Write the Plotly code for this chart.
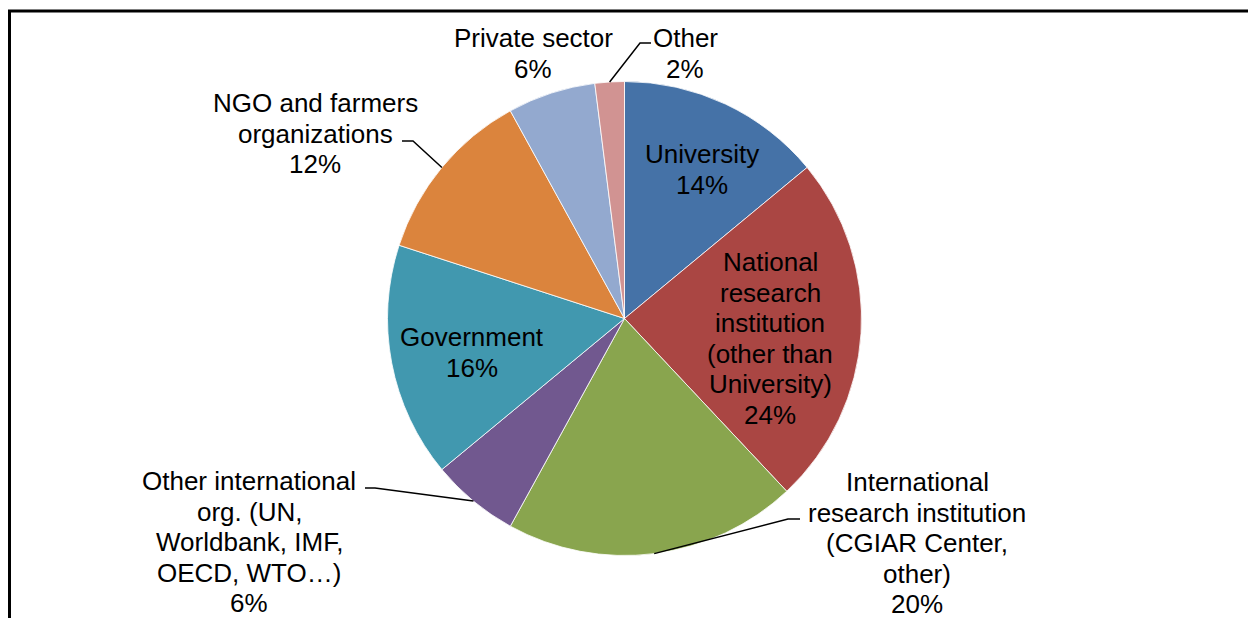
import math
import plotly.graph_objects as go

# ---- data ----
categories = [
    "University",
    "National research institution (other than University)",
    "International research institution (CGIAR Center, other)",
    "Other international org. (UN, Worldbank, IMF, OECD, WTO…)",
    "Government",
    "NGO and farmers organizations",
    "Private sector",
    "Other",
]
values = [14, 24, 20, 6, 16, 12, 6, 2]
label_lines = [
    ["University"],
    ["National", "research", "institution", "(other than", "University)"],
    ["International", "research institution", "(CGIAR Center,", "other)"],
    ["Other international", "org. (UN,", "Worldbank, IMF,", "OECD, WTO…)"],
    ["Government"],
    ["NGO and farmers", "organizations"],
    ["Private sector"],
    ["Other"],
]
colors = ["#4572A7", "#AA4643", "#89A54E", "#71588F", "#4198AF", "#DB843D", "#93A9CF", "#D19392"]

# ---- layout / style (pixels) ----
W, H = 1248, 618
CX, CY, R = 624.5, 318.5, 237
LINE_STEP = 30.6
FONT = dict(family="Arial, Liberation Sans, sans-serif", size=26, color="black")
# label block: (x center, y center of first line)
label_pos = [
    (702, 154),
    (770, 262),
    (917, 482),
    (249, 481),
    (472, 337),
    (315, 103),
    (533, 38),
    (685, 38),
]
# leader lines: (elbow, end) or None
leaders = [
    None,
    None,
    ((788, 519), (800, 519)),
    ((375, 488), (365, 488)),
    None,
    ((413, 141), (402, 141)),
    None,
    ((640, 43), (651, 43)),
]


def px(x):
    return x / W


def py(y):
    return 1 - y / H


fig = go.Figure()
fig.add_trace(go.Pie(
    labels=categories,
    values=values,
    sort=False,
    direction="clockwise",
    rotation=0,
    marker=dict(colors=colors, line=dict(color="white", width=0.8)),
    textinfo="none",
    hoverinfo="label+percent",
    showlegend=False,
    domain=dict(x=[px(CX - R), px(CX + R)], y=[py(CY + R), py(CY - R)]),
))

total = sum(values)
annotations = []
shapes = []
cum = 0
for i, v in enumerate(values):
    pct = round(100 * v / total)
    mid = (cum + v / 2) / total * 2 * math.pi
    cum += v
    lines = label_lines[i] + [f"{pct}%"]
    lx, ly = label_pos[i]
    for k, t in enumerate(lines):
        annotations.append(dict(
            x=px(lx), y=py(ly + k * LINE_STEP), xref="paper", yref="paper",
            text=t, showarrow=False, xanchor="center", yanchor="middle",
            font=FONT,
        ))
    if leaders[i] is not None:
        ex = CX + R * math.sin(mid)
        ey = CY - R * math.cos(mid)
        (bx, by), (tx, ty) = leaders[i]
        path = f"M {px(ex)} {py(ey)} L {px(bx)} {py(by)} L {px(tx)} {py(ty)}"
        shapes.append(dict(type="path", path=path, xref="paper", yref="paper",
                           line=dict(color="black", width=1.5)))

# outer frame
shapes.append(dict(type="rect", xref="paper", yref="paper",
                   x0=px(9.5), x1=px(W + 20), y0=py(H + 20), y1=py(11),
                   line=dict(color="black", width=3), fillcolor="rgba(0,0,0,0)"))

fig.update_layout(
    width=W, height=H,
    margin=dict(l=0, r=0, t=0, b=0),
    paper_bgcolor="white", plot_bgcolor="white",
    annotations=annotations, shapes=shapes,
)
fig.write_html(
    "out.html",
    config={"displayModeBar": False},
    post_script="document.body.style.margin='0';document.body.style.overflow='hidden';",
)
